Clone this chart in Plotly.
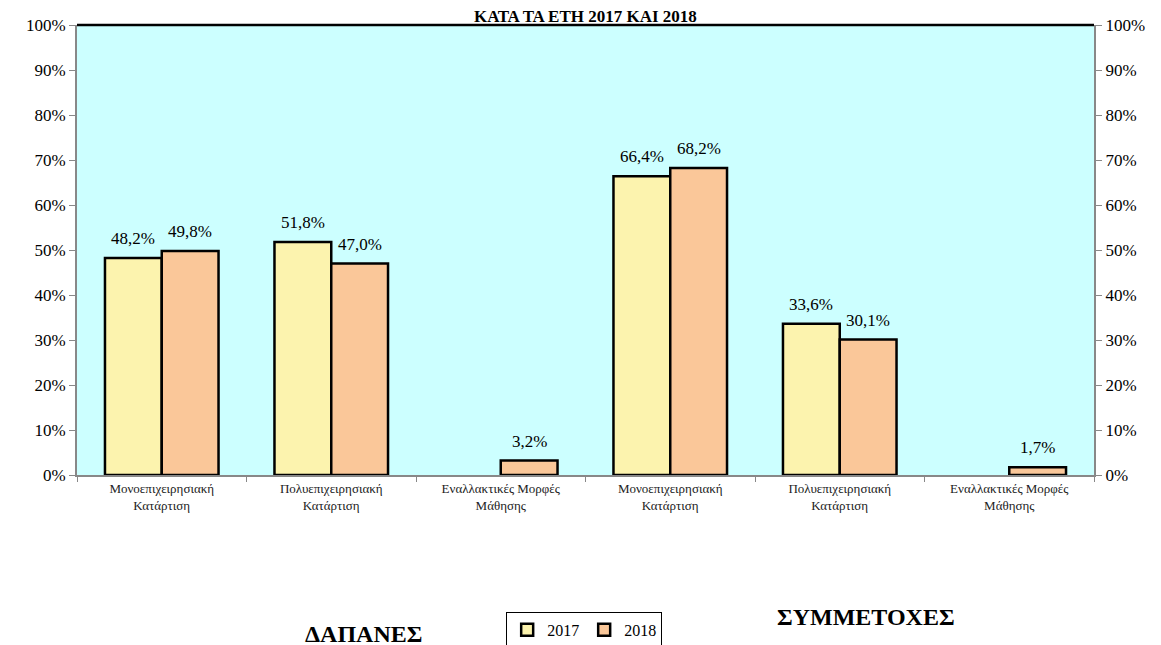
import plotly.graph_objects as go

categories = ["Μονοεπιχειρησιακή<br>Κατάρτιση", "Πολυεπιχειρησιακή<br>Κατάρτιση", "Εναλλακτικές Μορφές<br>Μάθησης",
              "Μονοεπιχειρησιακή<br>Κατάρτιση", "Πολυεπιχειρησιακή<br>Κατάρτιση", "Εναλλακτικές Μορφές<br>Μάθησης"]
values_2017 = [48.2, 51.8, None, 66.4, 33.6, None]
values_2018 = [49.8, 47.0, 3.2, 68.2, 30.1, 1.7]
y_ticks = [0, 10, 20, 30, 40, 50, 60, 70, 80, 90, 100]
title_text = "ΚΑΤΑ ΤΑ ΕΤΗ 2017 ΚΑΙ 2018"
group_left = "ΔΑΠΑΝΕΣ"
group_right = "ΣΥΜΜΕΤΟΧΕΣ"

x = list(range(len(categories)))
serif = "Liberation Serif"
BARGAP = 0.33
half = (1 - BARGAP) / 4  # offset of each bar centre from category centre

def fmt(v):
    return f"{v:.1f}%".replace(".", ",")

fig = go.Figure()
fig.add_trace(go.Bar(
    x=x, y=values_2017, name="2017",
    marker=dict(color="#FCF3AE", line=dict(color="black", width=2.5)),
))
fig.add_trace(go.Bar(
    x=x, y=values_2018, name="2018",
    marker=dict(color="#FAC799", line=dict(color="black", width=2.5)),
))
# dummy trace for right axis
fig.add_trace(go.Scatter(x=[0], y=[0], yaxis="y2", mode="markers",
                         marker=dict(opacity=0), showlegend=False, hoverinfo="skip"))

# data labels
for series, sign in ((values_2017, -1), (values_2018, 1)):
    for xi, v in zip(x, series):
        if v is None:
            continue
        fig.add_annotation(x=xi + sign * half, y=v, xref="x", yref="y", text=fmt(v),
                           showarrow=False, yanchor="bottom", yshift=8,
                           font=dict(family=serif, size=17, color="black"))

fig.update_layout(
    width=1161, height=645,
    margin=dict(l=69, r=75, t=17, b=178, autoexpand=False),
    paper_bgcolor="white", plot_bgcolor="#CCFFFF",
    barmode="group", bargap=BARGAP, bargroupgap=0,
    font=dict(family=serif, color="black"),
    showlegend=True,
    legend=dict(orientation="h", x=0.422, y=-0.304, xanchor="left", yanchor="top",
                bordercolor="black", borderwidth=1, bgcolor="white",
                font=dict(family=serif, size=16), itemwidth=30,
                traceorder="normal"),
)
fig.update_xaxes(
    range=[-0.5, 5.5], tickvals=x, ticktext=categories, ticks="",
    tickfont=dict(family=serif, size=13, color="#222"),
    showline=True, linecolor="#888888", linewidth=2, showgrid=False, zeroline=False,
    minor=dict(ticks="outside", tick0=-0.5, dtick=1, ticklen=5, tickcolor="#888888", tickwidth=1),
)
fig.update_yaxes(
    range=[0, 100], tickvals=y_ticks, ticktext=[f"{t}%" for t in y_ticks],
    ticks="outside", ticklen=6, tickcolor="#888888",
    tickfont=dict(family=serif, size=17, color="black"),
    showline=True, linecolor="#888888", linewidth=2, showgrid=False, zeroline=False,
)
fig.update_layout(yaxis2=dict(
    overlaying="y", side="right", range=[0, 100], tickvals=y_ticks,
    ticktext=[f"{t}%" for t in y_ticks], ticks="outside", ticklen=6, tickcolor="#888888",
    tickfont=dict(family=serif, size=17, color="black"),
    showline=True, linecolor="#888888", linewidth=2, showgrid=False, zeroline=False,
))

fig.add_shape(type="line", xref="paper", yref="paper", x0=0, x1=1, y0=1, y1=1,
              line=dict(color="black", width=2.5))

fig.add_annotation(text=f"<b>{title_text}</b>", xref="paper", yref="paper",
                   x=0.5, y=1 + 20 / 450, xanchor="center", yanchor="top",
                   showarrow=False, font=dict(family=serif, size=17, color="black"))
fig.add_annotation(text=f"<b>{group_left}</b>", xref="paper", yref="paper",
                   x=(363 - 77) / 1017, y=(475 - 634) / 450, xanchor="center", yanchor="middle",
                   showarrow=False, font=dict(family=serif, size=24, color="black"))
fig.add_annotation(text=f"<b>{group_right}</b>", xref="paper", yref="paper",
                   x=(866 - 77) / 1017, y=(475 - 617) / 450, xanchor="center", yanchor="middle",
                   showarrow=False, font=dict(family=serif, size=24, color="black"))

fig.write_html("out.html")
